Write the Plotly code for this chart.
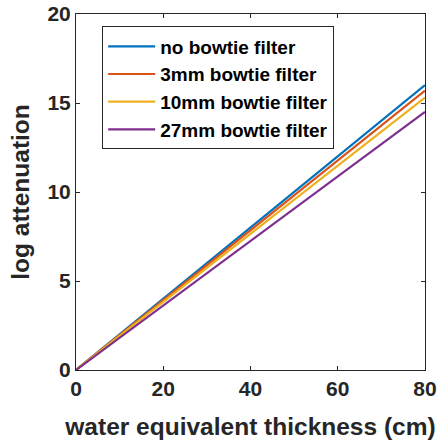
import plotly.graph_objects as go

thickness = [0, 20, 40, 60, 80]
no_filter = [0, 4.0, 8.0, 12.0, 16.0]
filter_3mm = [0, 3.92, 7.84, 11.76, 15.7]
filter_10mm = [0, 3.83, 7.65, 11.48, 15.3]
filter_27mm = [0, 3.63, 7.25, 10.88, 14.5]
names = ["no bowtie filter", "3mm bowtie filter", "10mm bowtie filter", "27mm bowtie filter"]
colors = ["#0072BD", "#D95319", "#EDB120", "#7E2F8E"]
series = [no_filter, filter_3mm, filter_10mm, filter_27mm]
x_ticks = [0, 20, 40, 60, 80]
y_ticks = [0, 5, 10, 15, 20]

FONT = "Liberation Sans, Arial"
fig = go.Figure()
for n, c, s in zip(names, colors, series):
    fig.add_trace(go.Scatter(x=thickness, y=s, mode="lines", name=n,
                             line=dict(color=c, width=2.2)))

axis_common = dict(showline=True, linecolor="#262626", linewidth=1, mirror="ticks",
                   ticks="inside", ticklen=4, tickcolor="#262626", showgrid=False,
                   zeroline=False, automargin=False,
                   tickfont=dict(family=FONT, size=21, color="#262626"))
fig.update_xaxes(range=[0, 80], tickvals=x_ticks,
                 ticktext=[f"<b>{t}</b>" for t in x_ticks],
                 title=dict(text="<b>water equivalent thickness (cm)</b>", standoff=18,
                            font=dict(family=FONT, size=24.5, color="#262626")),
                 **axis_common)
fig.update_yaxes(range=[0, 20], tickvals=y_ticks,
                 ticktext=[f"<b>{t}</b>" for t in y_ticks],
                 title=dict(text="<b>log attenuation</b>", standoff=10,
                            font=dict(family=FONT, size=24.5, color="#262626")),
                 **axis_common)
fig.update_layout(
    width=438, height=442,
    margin=dict(l=76, r=13, t=14, b=72),
    plot_bgcolor="white", paper_bgcolor="white",
    font=dict(family=FONT, color="#262626"),
    legend=dict(x=0.075, y=0.965, xanchor="left", yanchor="top",
                bgcolor="white", bordercolor="#262626", borderwidth=1,
                font=dict(family=FONT, size=19, color="black", weight="bold"),
                tracegroupgap=0, itemwidth=47),
)
fig.write_html("out.html")
